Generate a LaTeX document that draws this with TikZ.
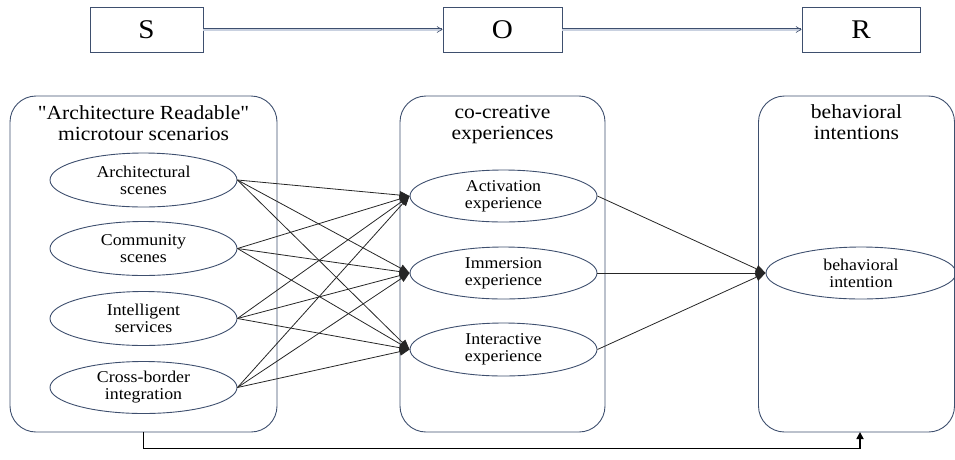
\documentclass[tikz,border=0pt]{standalone}
\usepackage{fontspec}
\newfontfamily\tnr{Liberation Serif}[FakeStretch=1.08]
\usetikzlibrary{arrows.meta,shapes.geometric,calc}
\definecolor{navy}{HTML}{3E4F6E}
\definecolor{lightnavy}{HTML}{C9D1E0}
\definecolor{linegray}{HTML}{262626}
\begin{document}
\begin{tikzpicture}[x=1pt,y=-1pt,
  sorbox/.style={draw=navy,line width=0.9pt,minimum height=45pt,inner sep=0pt,font=\tnr\fontsize{27}{29}\selectfont},
  bigbox/.style={draw=navy,line width=0.9pt,rounded corners=26pt,inner sep=0pt},
  titletext/.style={align=center,font=\tnr\fontsize{20}{21}\selectfont,inner sep=0pt},
  ell/.style={ellipse,draw=navy,line width=0.9pt,inner sep=0pt,align=center,font=\tnr\fontsize{16.5}{17}\selectfont},
  conn/.style={draw=linegray,line width=0.8pt,-{Triangle[length=10pt,width=8pt]}},
  toparrow/.style={draw=navy,double=lightnavy,double distance=2pt,line width=0.6pt,-{Straight Barb[length=5pt,width=6pt]}}
]
\useasboundingbox (0,0) rectangle (955,459);
% top S-O-R
\node[sorbox,minimum width=113pt] (S) at (146.5,29.5) {S};
\node[sorbox,minimum width=119pt] (O) at (502.5,29.5) {O};
\node[sorbox,minimum width=118pt] (R) at (861,29.5) {R};
\draw[toparrow] (S.east) -- (O.west);
\draw[toparrow] (O.east) -- (R.west);
% big boxes
\node[bigbox,minimum width=267pt,minimum height=336pt] (LB) at (143.5,264) {};
\node[bigbox,minimum width=205pt,minimum height=336pt] (MB) at (502.5,264) {};
\node[bigbox,minimum width=196pt,minimum height=336pt] (RB) at (856.5,264) {};
% titles
\node[titletext,anchor=base] (LT) at (143.5,140) {"Architecture Readable"\\microtour scenarios};
\node[titletext,anchor=base] (MT) at (502.5,139) {co-creative\\experiences};
\node[titletext,anchor=base] (RT) at (856.5,139) {behavioral\\intentions};
% left ellipses
\node[ell,minimum width=187pt,minimum height=54pt] (A1) at (143.5,180) {Architectural\\scenes};
\node[ell,minimum width=187pt,minimum height=54pt] (A2) at (143.5,248.5) {Community\\scenes};
\node[ell,minimum width=187pt,minimum height=54pt] (A3) at (143.5,318.5) {Intelligent\\services};
\node[ell,minimum width=187pt,minimum height=52pt] (A4) at (143.5,387.5) {Cross-border\\integration};
% middle ellipses
\node[ell,minimum width=187pt,minimum height=52pt] (B1) at (503.5,196) {Activation\\experience};
\node[ell,minimum width=187pt,minimum height=52pt] (B2) at (503.5,273) {Immersion\\experience};
\node[ell,minimum width=187pt,minimum height=53pt] (B3) at (503.5,349.5) {Interactive\\experience};
% right ellipse
\node[ell,minimum width=190pt,minimum height=52pt] (C1) at (861,273) {behavioral\\intention};
% connectors left -> middle
\foreach \a in {A1,A2,A3,A4}{
  \foreach \b in {B1,B2,B3}{
    \draw[conn] (\a.east) -- (\b.west);
  }
}
% middle -> right
\foreach \b in {B1,B2,B3}{
  \draw[conn] (\b.east) -- (C1.west);
}
% bottom feedback arrow
\coordinate (BR) at (860,432);
\draw[line width=1.6pt,-{Triangle[length=7pt,width=7pt]}] (LB.south) -- ++(0,16) -| (BR);
\end{tikzpicture}
\end{document}
